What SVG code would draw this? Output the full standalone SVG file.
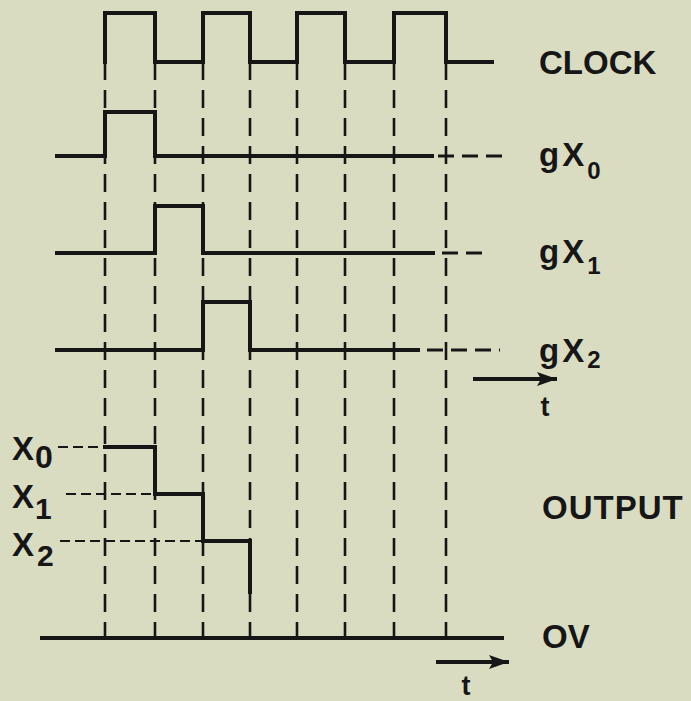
<svg xmlns="http://www.w3.org/2000/svg" width="691" height="701" viewBox="0 0 691 701">
  <defs>
    <style>
      .sig { fill: none; stroke: #161616; stroke-width: 4; stroke-linejoin: miter; stroke-linecap: square; }
      .grid { fill: none; stroke: #161616; stroke-width: 2.6; stroke-dasharray: 18 10; }
      .ext { fill: none; stroke: #161616; stroke-width: 3; stroke-dasharray: 16 8; }
      .lvl { fill: none; stroke: #161616; stroke-width: 2; stroke-dasharray: 10 5; }
      .lbl { font-family: "Liberation Sans", Arial, sans-serif; font-weight: bold; fill: #161616; font-size: 33px; }
      .sub { font-size: 24px; }
      .tt { font-family: "Liberation Sans", Arial, sans-serif; font-weight: bold; fill: #161616; font-size: 27px; }
    </style>
    <marker id="ah" viewBox="0 0 20 14" refX="18" refY="7" markerWidth="20" markerHeight="14" markerUnits="userSpaceOnUse" orient="auto">
      <path d="M0,0 L20,7 L0,14 L4,7 Z" fill="#161616"/>
    </marker>
  </defs>
  <rect width="691" height="701" fill="#dadcc2"/>

  <g id="grid-lines">
    <line class="grid" x1="105" y1="62" x2="105" y2="638"/>
    <line class="grid" x1="155" y1="62" x2="155" y2="638"/>
    <line class="grid" x1="203" y1="62" x2="203" y2="638"/>
    <line class="grid" x1="250" y1="62" x2="250" y2="638"/>
    <line class="grid" x1="297" y1="62" x2="297" y2="638"/>
    <line class="grid" x1="345" y1="62" x2="345" y2="638"/>
    <line class="grid" x1="394" y1="62" x2="394" y2="638"/>
    <line class="grid" x1="446" y1="62" x2="446" y2="638"/>
  </g>

  <g id="clock">
    <path class="sig" d="M105,62 V13 H155 V62 H203 V13 H250 V62 H297 V13 H345 V62 H394 V13 H446 V62 H492"/>
    <text class="lbl" x="539" y="74">CLOCK</text>
  </g>

  <g id="gx0">
    <path class="sig" d="M57,156 H105 V112 H155 V156 H432"/>
    <path class="ext" d="M438,156 H502"/>
    <text class="lbl" x="539" y="166">g<tspan dx="3">X</tspan><tspan class="sub" dx="3" dy="13">0</tspan></text>
  </g>

  <g id="gx1">
    <path class="sig" d="M57,253 H155 V206 H203 V253 H433"/>
    <path class="ext" d="M442,253 H490"/>
    <text class="lbl" x="539" y="263">g<tspan dx="3">X</tspan><tspan class="sub" dx="3" dy="11">1</tspan></text>
  </g>

  <g id="gx2">
    <path class="sig" d="M57,350 H203 V302 H250 V350 H418"/>
    <path class="ext" d="M427,350 H500"/>
    <text class="lbl" x="539" y="362">g<tspan dx="3">X</tspan><tspan class="sub" dx="3" dy="6">2</tspan></text>
  </g>

  <g id="time-axis-1">
    <line class="sig" x1="475" y1="379" x2="555" y2="379" stroke-width="3" marker-end="url(#ah)"/>
    <text class="tt" x="545" y="416" text-anchor="middle">t</text>
  </g>

  <g id="output">
    <path class="lvl" d="M58,447 H105"/>
    <path class="lvl" d="M66,494 H155"/>
    <path class="lvl" d="M60,541 H203"/>
    <path class="sig" d="M105,447 H155 V494 H203 V541 H250 V592"/>
    <text class="lbl" x="12" y="460" font-size="35">X<tspan font-size="32" dx="1" dy="8">0</tspan></text>
    <text class="lbl" x="12" y="508" font-size="35">X<tspan font-size="30" dx="1" dy="11">1</tspan></text>
    <text class="lbl" x="12" y="556" font-size="35">X<tspan font-size="30" dx="3" dy="10">2</tspan></text>
    <text class="lbl" x="542" y="519" letter-spacing="1">OUTPUT</text>
  </g>

  <g id="ov">
    <path class="sig" d="M42,638 H502"/>
    <text class="lbl" x="542" y="648">OV</text>
  </g>

  <g id="time-axis-2">
    <line class="sig" x1="438" y1="662" x2="507" y2="662" stroke-width="3" marker-end="url(#ah)"/>
    <text class="tt" x="466" y="695" text-anchor="middle">t</text>
  </g>
</svg>
